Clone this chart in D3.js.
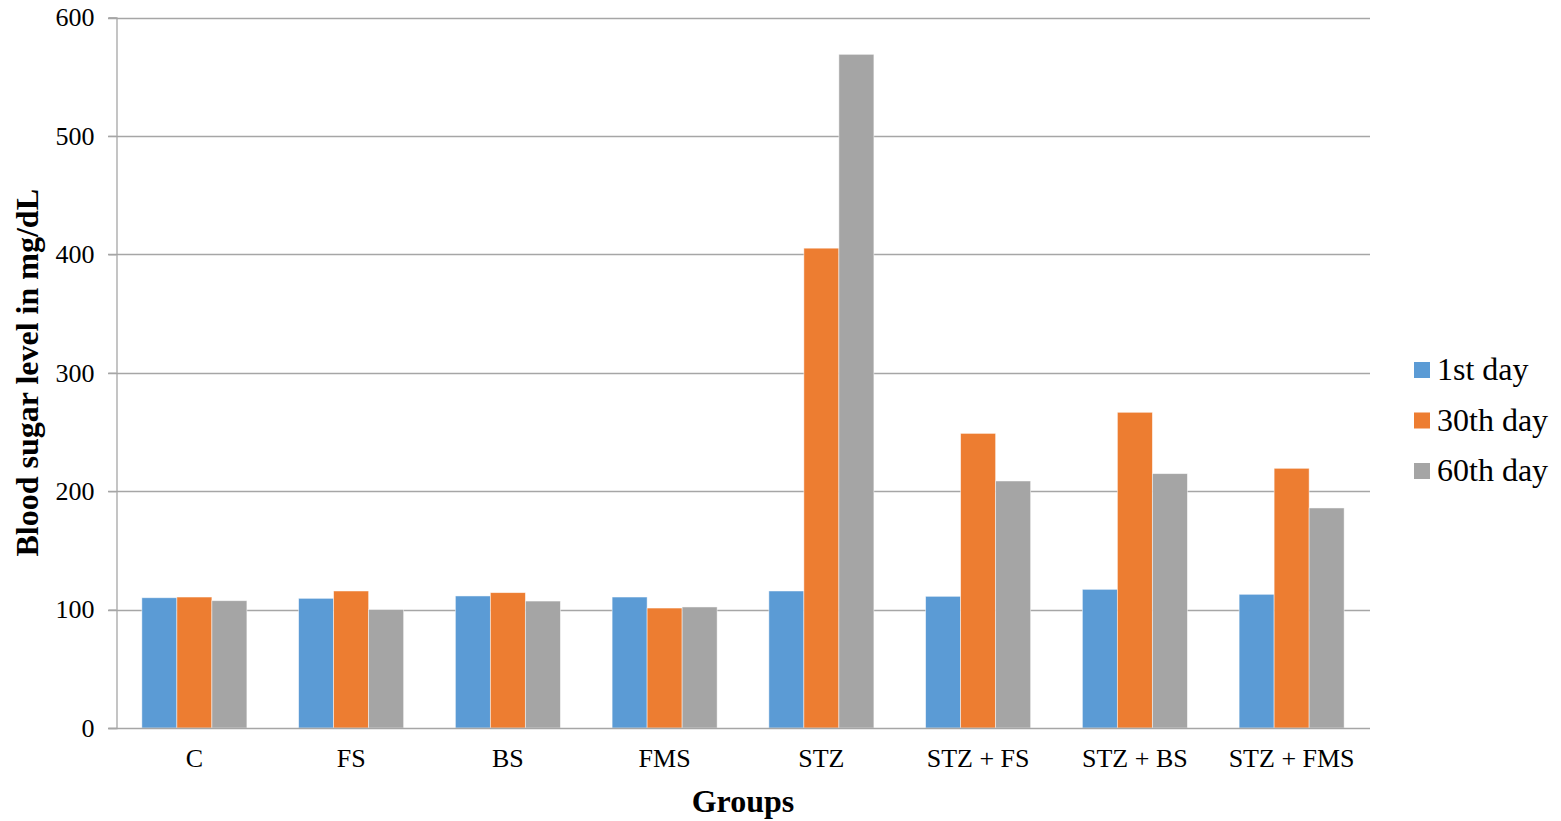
<!DOCTYPE html>
<html>
<head>
<meta charset="utf-8">
<script src="https://cdn.jsdelivr.net/npm/d3@7"></script>
<style>
  html, body { margin: 0; padding: 0; background: #fff; }
  svg { display: block; }
  svg text { font-family: "Liberation Serif", "Times New Roman", serif; }
</style>
</head>
<body>
<svg id="chart" width="1561" height="821"></svg>
<script>
// Groups and measured blood sugar (mg/dL) on each day
const groups = ["C", "FS", "BS", "FMS", "STZ", "STZ + FS", "STZ + BS", "STZ + FMS"];
const seriesNames = ["1st day", "30th day", "60th day"];
const day1 = [110, 109.5, 111.5, 110.6, 115.7, 111.2, 117.1, 112.9];
const day30 = [110.6, 115.7, 114.3, 101.3, 405.2, 248.8, 266.6, 219.3];
const day60 = [107.5, 100, 107.2, 102.2, 568.9, 208.6, 214.8, 185.8];
const yTicks = [0, 100, 200, 300, 400, 500, 600];
const colors = ["#5B9BD5", "#ED7D31", "#A5A5A5"];

const seriesValues = [day1, day30, day60];
const serif = "'Liberation Serif', 'Times New Roman', serif";

const svg = d3.select("#chart");
const plot = { left: 116, right: 1370, top: 17.5, bottom: 728 };

const x = d3.scaleBand()
  .domain(groups)
  .range([plot.left, plot.right])
  .paddingInner(0.33)
  .paddingOuter(0.165);

const xSeries = d3.scaleBand()
  .domain(seriesNames)
  .range([0, x.bandwidth()]);

const y = d3.scaleLinear()
  .domain([0, 600])
  .range([plot.bottom, plot.top]);

// Horizontal gridlines
svg.append("g")
  .selectAll("line")
  .data(yTicks.filter(t => t > 0))
  .join("line")
  .attr("x1", plot.left - 8)
  .attr("x2", plot.right)
  .attr("y1", d => Math.round(y(d)) + 0.5)
  .attr("y2", d => Math.round(y(d)) + 0.5)
  .attr("stroke", "#a6a6a6")
  .attr("stroke-width", 1.3);

// Bars
const rows = groups.map((g, i) => ({ group: g, values: seriesValues.map((s, k) => ({ name: seriesNames[k], value: s[i], color: colors[k] })) }));

svg.append("g")
  .selectAll("g")
  .data(rows)
  .join("g")
  .attr("transform", d => `translate(${x(d.group)},0)`)
  .selectAll("rect")
  .data(d => d.values)
  .join("rect")
  .attr("x", d => xSeries(d.name))
  .attr("width", xSeries.bandwidth())
  .attr("y", d => y(d.value))
  .attr("height", d => y(0) - y(d.value))
  .attr("fill", d => d.color)
  .attr("stroke", "#ffffff")
  .attr("stroke-opacity", 0.6)
  .attr("stroke-width", 0.8);

// Y axis
const yAxis = svg.append("g")
  .attr("transform", `translate(${plot.left + 0.5},0)`)
  .call(d3.axisLeft(y).tickValues(yTicks).tickSize(8).tickPadding(14).tickFormat(d3.format("d")))
  .attr("font-family", serif)
  .attr("font-size", 26);
yAxis.select(".domain").attr("stroke", "#a6a6a6").attr("stroke-width", 1.3);
yAxis.selectAll(".tick line").attr("stroke", "#a6a6a6").attr("stroke-width", 1.3);
yAxis.selectAll(".tick text").attr("fill", "#000");

// X axis
const xAxis = svg.append("g")
  .attr("transform", `translate(0,${Math.round(plot.bottom) + 0.5})`)
  .call(d3.axisBottom(x).tickSize(0).tickPadding(20))
  .attr("font-family", serif)
  .attr("font-size", 26);
xAxis.select(".domain").remove();
xAxis.append("line")
  .attr("x1", plot.left - 8)
  .attr("x2", plot.right)
  .attr("stroke", "#a6a6a6")
  .attr("stroke-width", 1.3);
xAxis.selectAll(".tick text").attr("fill", "#000");

// Axis titles
svg.append("text")
  .attr("x", (plot.left + plot.right) / 2)
  .attr("y", 812)
  .attr("text-anchor", "middle")
  .attr("font-size", 32)
  .attr("font-weight", "bold")
  .text("Groups");

svg.append("text")
  .attr("transform", `translate(38,${(plot.top + plot.bottom) / 2}) rotate(-90)`)
  .attr("text-anchor", "middle")
  .attr("font-size", 32)
  .attr("font-weight", "bold")
  .text("Blood sugar level in mg/dL");

// Legend
const legend = svg.append("g")
  .selectAll("g")
  .data(seriesNames)
  .join("g")
  .attr("transform", (d, i) => `translate(1414,${370 + i * 50.5})`);
legend.append("rect")
  .attr("x", 0)
  .attr("y", -8)
  .attr("width", 16)
  .attr("height", 16)
  .attr("fill", (d, i) => colors[i]);
legend.append("text")
  .attr("x", 23)
  .attr("y", 10)
  .attr("font-size", 32)
  .attr("fill", "#000")
  .text(d => d);
</script>
</body>
</html>
